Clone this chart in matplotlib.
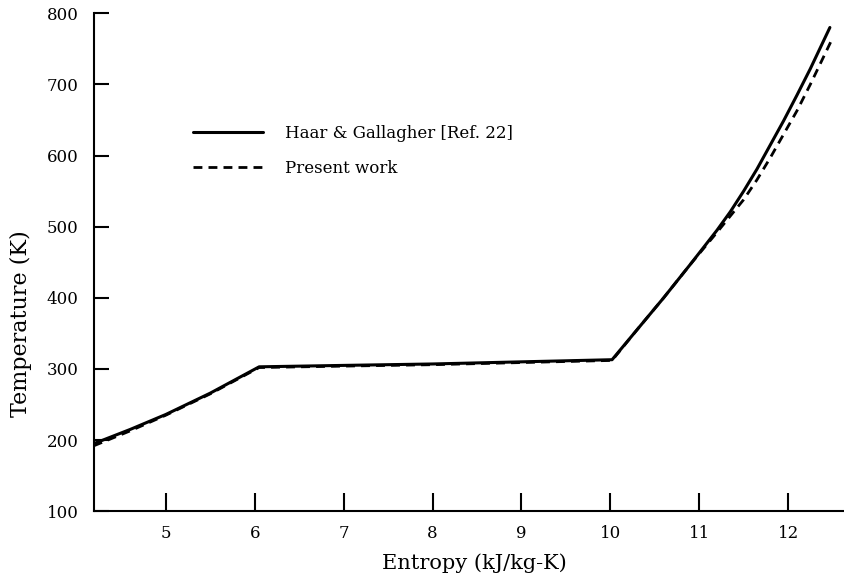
import matplotlib
matplotlib.use("Agg")
import matplotlib.pyplot as plt

# Haar & Gallagher [Ref. 22] (solid)
s_ref = [4.19, 4.6, 5.0, 5.5, 6.05, 7.0, 8.0, 9.0, 10.02, 10.3, 10.6, 10.9, 11.2,
         11.35, 11.5, 11.65, 11.8, 11.95, 12.1, 12.25, 12.47]
t_ref = [195, 215, 236, 266, 303, 305, 307, 310, 313, 355, 400, 447, 495,
         521, 550, 581, 615, 649, 685, 722, 780]

# Present work (dashed)
s_new = [4.19, 4.6, 5.0, 5.5, 6.05, 7.0, 8.0, 9.0, 10.02, 10.3, 10.6, 10.9, 11.2,
         11.35, 11.5, 11.65, 11.8, 11.95, 12.1, 12.25, 12.5]
t_new = [192, 213, 235, 265, 302, 304, 306, 309, 312, 355, 400, 447, 492,
         515, 538, 566, 597, 630, 663, 700, 765]

xticks = [5, 6, 7, 8, 9, 10, 11, 12]
yticks = [100, 200, 300, 400, 500, 600, 700, 800]

plt.rcParams['font.family'] = ['DejaVu Serif', 'DejaVu Sans']

fig = plt.figure(figsize=(8.45, 5.77), dpi=100)
ax = fig.add_axes([0.111, 0.114, 0.889, 0.863])

ax.plot(s_ref, t_ref, color='black', lw=2.2, solid_capstyle='round',
        label='Haar & Gallagher [Ref. 22]')
ax.plot(s_new, t_new, color='black', lw=2.0, linestyle=(0, (3.2, 2.2)),
        label='Present work')

ax.set_xlim(4.19, 12.64)
ax.set_ylim(100, 800)
ax.set_xticks(xticks)
ax.set_yticks(yticks)
ax.spines['top'].set_visible(False)
ax.spines['right'].set_visible(False)
for sp in ('left', 'bottom'):
    ax.spines[sp].set_linewidth(1.5)
ax.tick_params(axis='y', direction='in', length=11, width=1.5, pad=11, labelsize=12)
ax.tick_params(axis='x', direction='in', length=13, width=1.5, pad=10, labelsize=12)

ax.set_xlabel('Entropy (kJ/kg-K)', fontsize=15, labelpad=8)
ax.xaxis.set_label_coords(0.507, -0.085)
ax.set_ylabel('Temperature (K)', fontsize=16)
ax.yaxis.set_label_coords(-0.082, 0.376)

ax.legend(loc='upper left', bbox_to_anchor=(193 / 845, 1 - 125 / 577),
          bbox_transform=fig.transFigure, frameon=False, borderpad=0,
          borderaxespad=0, handlelength=4.2, handletextpad=1.3,
          labelspacing=1.1, fontsize=12)

fig.savefig('out.png', dpi=100)
